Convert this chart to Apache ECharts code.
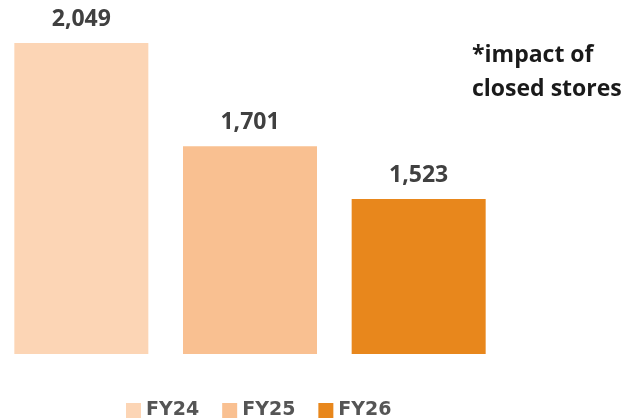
<!DOCTYPE html>
<html>
<head>
<meta charset="utf-8">
<script src="https://cdn.jsdelivr.net/npm/echarts@6/dist/echarts.min.js"></script>
<style>
html, body { margin: 0; padding: 0; background: #fff; }
#main { width: 628px; height: 419px; }
</style>
</head>
<body>
<div id="main"></div>
<script>
var categories = ['FY24', 'FY25', 'FY26'];
var values = [2049, 1701, 1523];
var colors = ['#fcd5b5', '#f9c091', '#e8871c'];

var chart = echarts.init(document.getElementById('main'));

// one series per year so the legend shows each
var series = categories.map(function (name, i) {
	var data = categories.map(function (c, j) { return j === i ? values[i] : '-'; });
	return {
		name: name,
		type: 'bar',
		stack: 'all',
		barWidth: 134,
		itemStyle: { color: colors[i] },
		label: {
			show: true,
			position: 'top',
			distance: 12,
			formatter: function (p) { return echarts.format.addCommas(p.value); },
			color: '#404040',
			fontSize: 23,
			fontWeight: 'bold',
			fontFamily: 'Open Sans'
		},
		data: data
	};
});

var option = {
	animation: false,
	backgroundColor: '#ffffff',
	grid: { left: -3, top: 43, width: 506, height: 311, outerBoundsMode: 'none' },
	xAxis: {
		type: 'category',
		data: categories,
		show: false
	},
	yAxis: {
		type: 'value',
		min: 1000,
		max: 2049,
		show: false
	},
	legend: {
		top: 396,
		left: 121,
		itemWidth: 15,
		itemHeight: 15,
		itemGap: 23,
		icon: 'rect',
		textStyle: {
			color: '#555555',
			fontSize: 19,
			fontWeight: 'bold',
			fontFamily: 'DejaVu Sans'
		},
		data: categories
	},
	graphic: [
		{
			type: 'text',
			left: 472,
			top: 38,
			style: {
				text: '*impact of\nclosed stores',
				fill: '#1a1a1a',
				font: 'bold 23px "Open Sans"',
				lineHeight: 34
			}
		}
	],
	series: series
};

chart.setOption(option);
</script>
</body>
</html>
